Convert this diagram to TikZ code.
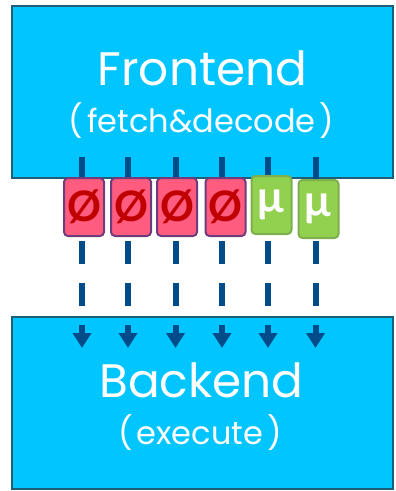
\documentclass[tikz,border=0pt]{standalone}
\usepackage{fontspec}
\usetikzlibrary{arrows.meta}
\newfontfamily\labfont{Poppins}
\newfontfamily\markfont{Lato}
\definecolor{unitfill}{HTML}{00C5FF}
\definecolor{unitedge}{HTML}{1B5F78}
\definecolor{flow}{HTML}{004C8A}
\definecolor{killfill}{HTML}{FF5C80}
\definecolor{killedge}{HTML}{6E3C7C}
\definecolor{killmark}{HTML}{C00000}
\definecolor{uopfill}{HTML}{92D050}
\definecolor{uopedge}{HTML}{7EAF4C}
\newcommand\paren[1]{(\hspace{4pt}#1\hspace{4pt})}
\tikzset{
  unit/.style={draw=unitedge, fill=unitfill, line width=2.5pt, inner sep=0pt},
  title/.style={anchor=base, text=white, font=\labfont\fontsize{47}{47}\selectfont},
  subtitle/.style={anchor=base, text=white, font=\labfont\fontsize{32}{32}\selectfont},
  slot/.style={rounded corners=4pt, line width=2pt, minimum width=40pt, minimum height=58pt, inner sep=0pt},
  killed/.style={slot, draw=killedge, fill=killfill, text=killmark, font=\markfont\bfseries\fontsize{42}{42}\selectfont},
  uop/.style={slot, draw=uopedge, fill=uopfill, text=white, font=\markfont\bfseries\fontsize{44}{44}\selectfont},
  lane/.style={draw=flow, line width=6pt, dash pattern=on 23pt off 19pt,
    -{Triangle[length=15pt,width=18pt]}}
}
\begin{document}
\begin{tikzpicture}[x=1pt, y=-1pt]
  \useasboundingbox (0,0) rectangle (396,491);
  % the two pipeline halves
  \node[unit, minimum width=381pt, minimum height=172pt] (front) at (202.5,92) {};
  \node[unit, minimum width=381pt, minimum height=172pt] (back) at (202.5,403) {};
  \node[title] (ftitle) at (202.5,85) {Frontend};
  \node[subtitle] (fsub) at (201.5,132) {\paren{fetch\&decode}};
  \node[title] (btitle) at (201.5,397) {Backend};
  \node[subtitle] (bsub) at (200,444) {\paren{execute}};
  % six issue lanes from frontend to backend
  \foreach \i/\x in {1/82,2/128,3/175.5,4/222,5/268,6/315.5} {
    \coordinate (s\i) at (\x,157);
    \coordinate (e\i) at (\x,348);
    \draw[lane] (s\i) -- (e\i);
  }
  % slots travelling down the lanes
  \node[killed] (k1) at (84,207) {Ø};
  \node[killed] (k2) at (131,207) {Ø};
  \node[killed] (k3) at (177,207) {Ø};
  \node[killed] (k4) at (225.5,207) {Ø};
  \node[uop] (u1) at (271.5,205) {µ};
  \node[uop] (u2) at (318.5,209) {µ};
\end{tikzpicture}
\end{document}
